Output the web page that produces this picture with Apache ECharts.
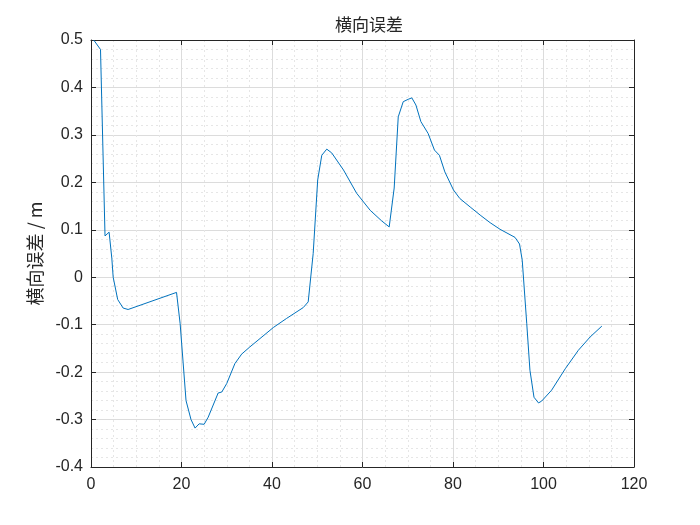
<!DOCTYPE html>
<html><head><meta charset="utf-8">
<script src="https://cdn.jsdelivr.net/npm/echarts@6/dist/echarts.min.js"></script>
<style>html,body{margin:0;padding:0;background:#fff}#c{width:700px;height:525px}</style>
</head><body><div id="c"></div>
<script>
const titleText = '横向误差';
const yAxisTitle = '横向误差 / m';
const xValues = [0.6,2.1,3.1,4.0,4.6,4.9,5.9,7.1,8.2,18.9,19.7,21,22.1,23,23.9,25,25.9,28.1,28.9,30,31.8,33.3,35.1,40.3,43.2,46.9,48,49.1,50.1,51,52.1,53.2,55.8,58.7,61.7,64.2,65.9,67,67.9,69,70.1,70.9,71.8,72.9,74.5,75.9,77,78.2,80.1,81.5,83.8,86,88.2,90.4,93.7,94.7,95.3,96.3,97,97.9,98.9,99.6,101.8,104.8,107.7,110.3,112.9];
const yValues = [0.50,0.48,0.087,0.095,0.04,0.0,-0.047,-0.065,-0.068,-0.032,-0.098,-0.26,-0.30,-0.318,-0.309,-0.31,-0.295,-0.244,-0.242,-0.224,-0.182,-0.162,-0.147,-0.106,-0.087,-0.064,-0.052,0.05,0.205,0.257,0.27,0.262,0.226,0.177,0.141,0.119,0.106,0.188,0.338,0.37,0.375,0.378,0.363,0.328,0.303,0.268,0.257,0.222,0.184,0.166,0.148,0.131,0.115,0.101,0.084,0.07,0.036,-0.098,-0.196,-0.253,-0.265,-0.261,-0.238,-0.193,-0.154,-0.126,-0.103];
const xTickLabels = ['0','20','40','60','80','100','120'];
const yTickLabels = ['-0.4','-0.3','-0.2','-0.1','0','0.1','0.2','0.3','0.4','0.5'];

const data = xValues.map((x,i)=>[x,yValues[i]]);
const axisColor = '#262626';
const font = '"Liberation Sans", Arial, sans-serif';
const cjk = '"Noto Sans CJK SC", sans-serif';
const fmtY = v => { const s = String(Math.round(v*10)/10); return yTickLabels.includes(s) ? s : ''; };
const fmtX = v => { const s = String(Math.round(v)); return xTickLabels.includes(s) ? s : ''; };
const baseX = {
  type:'value', min:0, max:120, interval:20,
  axisLine:{show:true, onZero:false, lineStyle:{color:axisColor, width:1}},
  axisTick:{show:true, inside:true, length:5, lineStyle:{color:axisColor}},
  minorTick:{show:false, splitNumber:4},
};
const baseY = {
  type:'value', min:-0.4, max:0.5, interval:0.1,
  axisLine:{show:true, onZero:false, lineStyle:{color:axisColor, width:1}},
  axisTick:{show:true, inside:true, length:5, lineStyle:{color:axisColor}},
  minorTick:{show:false, splitNumber:5},
};
const chart = echarts.init(document.getElementById('c'), null, {renderer:'canvas'});
chart.setOption({
  backgroundColor:'#ffffff',
  animation:false,
  title:{text:titleText, left:364, textAlign:'center', top:11,
    textStyle:{fontFamily:cjk, fontSize:17, fontWeight:'normal', color:axisColor}},
  grid:{left:91, right:66, top:40, bottom:58, containLabel:false},
  xAxis:[
    Object.assign({}, baseX, {position:'bottom',
      axisLabel:{show:true, margin:10, fontSize:16, fontFamily:font, color:axisColor, formatter:fmtX},
      splitLine:{show:true, lineStyle:{color:'#dcdcdc', width:1}},
      minorSplitLine:{show:true, lineStyle:{color:'#e6e6e6', width:1, type:[2,3]}}}),
    Object.assign({}, baseX, {position:'top', axisLabel:{show:false}, splitLine:{show:false}})
  ],
  yAxis:[
    Object.assign({}, baseY, {position:'left',
      name:yAxisTitle, nameLocation:'middle', nameGap:43, nameRotate:90,
      nameTextStyle:{fontFamily:cjk, fontSize:18, color:axisColor},
      axisLabel:{show:true, margin:8, fontSize:16, fontFamily:font, color:axisColor, formatter:fmtY},
      splitLine:{show:true, lineStyle:{color:'#dcdcdc', width:1}},
      minorSplitLine:{show:true, lineStyle:{color:'#e6e6e6', width:1, type:[2,3]}}}),
    Object.assign({}, baseY, {position:'right', axisLabel:{show:false}, splitLine:{show:false}})
  ],
  series:[{type:'line', data:data, showSymbol:false, symbol:'none', clip:true,
    lineStyle:{color:'#0072BD', width:1}}]
});
</script></body></html>
